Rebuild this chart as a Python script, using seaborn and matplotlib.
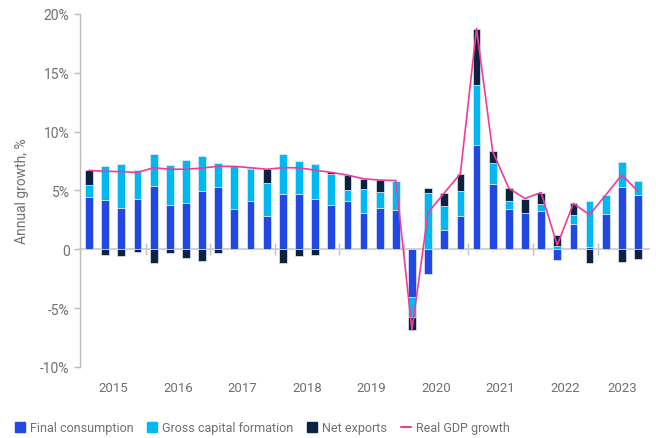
import matplotlib
matplotlib.use("Agg")
import matplotlib.pyplot as plt
import matplotlib.ticker as mticker
from matplotlib.lines import Line2D
from matplotlib.patches import Patch
from matplotlib.transforms import blended_transform_factory
import numpy as np
import seaborn as sns

sns.set_theme(style="white")
plt.rcParams["font.family"] = ["Roboto", "DejaVu Sans"]

# data (quarterly, 2015 Q1 - 2023 Q3)
years = ["2015", "2016", "2017", "2018", "2019", "2020", "2021", "2022", "2023"]
quarters_per_year = [4, 4, 4, 4, 4, 4, 4, 4, 3]
quarters = [f"{y} Q{q + 1}" for y, k in zip(years, quarters_per_year) for q in range(k)]

final_consumption = [4.45, 4.20, 3.49, 4.28, 5.39, 3.77, 3.94, 4.99,
                     5.30, 3.43, 4.11, 2.84, 4.71, 4.71, 4.23, 3.74,
                     4.12, 3.09, 3.49, 3.32, -4.03, -2.10, 1.67, 2.84,
                     8.85, 5.53, 3.40, 3.04, 3.23, -0.91, 2.16, 0.17,
                     3.00, 5.30, 4.62]
gross_capital = [1.05, 2.90, 3.74, 2.42, 2.67, 3.38, 3.61, 2.92,
                 2.05, 3.61, 2.73, 2.78, 3.35, 2.78, 3.00, 2.67,
                 0.90, 2.07, 1.36, 2.47, -1.70, 4.79, 1.99, 2.07,
                 5.08, 1.82, 0.74, 0.08, 0.63, 0.30, 0.79, 3.94,
                 1.57, 2.10, 1.14]
net_exports = [1.20, -0.48, -0.60, -0.20, -1.13, -0.34, -0.74, -1.02,
               -0.28, 0.00, 0.08, 1.16, -1.13, -0.57, -0.51, 0.14,
               1.25, 0.83, 1.02, 0.05, -1.16, 0.43, 1.11, 1.50,
               4.82, 0.96, 1.05, 1.19, 0.96, 0.95, 0.94, -1.19,
               0.03, -1.08, -0.85]
real_gdp = [6.70, 6.62, 6.60, 6.52, 6.93, 6.80, 6.80, 6.90,
            7.05, 7.04, 6.93, 6.80, 6.93, 6.92, 6.72, 6.53,
            6.30, 5.99, 5.88, 5.84, -6.85, 3.12, 4.78, 6.42,
            18.75, 8.31, 5.19, 4.31, 4.82, 0.35, 3.89, 2.93,
            4.60, 6.32, 4.93]

c_fc, c_gcf, c_nx, c_gdp = "#2148e3", "#00b9f2", "#0b2340", "#ee3d96"
grey_txt = "#707070"

fig = plt.figure(figsize=(6.56, 4.39), dpi=100)
ax = fig.add_axes([0.122, 0.162, 0.867, 0.804])

n = len(quarters)
pos_base = np.zeros(n)
neg_base = np.zeros(n)
for vals, color in [(final_consumption, c_fc), (gross_capital, c_gcf), (net_exports, c_nx)]:
    v = np.array(vals)
    bottom = np.where(v >= 0, pos_base, neg_base)
    sns.barplot(x=quarters, y=v, bottom=bottom, color=color, saturation=1,
                width=0.48, errorbar=None, edgecolor="#e3ebf3", linewidth=0.5,
                zorder=2, ax=ax)
    pos_base += np.clip(v, 0, None)
    neg_base += np.clip(v, None, 0)

sns.lineplot(x=np.arange(n), y=real_gdp, color=c_gdp, linewidth=1.2, zorder=3, ax=ax)

ax.set_xlim(-0.56, n - 1 + 0.67)
ax.set_ylim(-10, 20)
ax.yaxis.set_major_locator(mticker.MultipleLocator(5))
ax.yaxis.set_major_formatter(mticker.FuncFormatter(lambda v, p: "0" if v == 0 else f"{v:.0f}%"))
ax.set_ylabel("Annual growth, %", color=grey_txt, fontsize=10, labelpad=8)
ax.tick_params(axis="y", colors="#bbbbbb", labelcolor=grey_txt, labelsize=10,
               length=4, width=1, left=True)

# x axis sits on zero, with small ticks between the years
ax.spines["bottom"].set_position(("data", 0))
ax.spines["bottom"].set_color("#cccccc")
ax.spines["bottom"].set_linewidth(1.3)
ax.spines["bottom"].set_zorder(1)
ax.spines["left"].set_color("#bbbbbb")
ax.spines["left"].set_linewidth(1)
for s in ["top", "right"]:
    ax.spines[s].set_visible(False)

idx = np.arange(n)
bounds = np.cumsum(quarters_per_year)[:-1] - 0.5
ax.set_xticks(bounds)
ax.set_xticklabels([])
ax.tick_params(axis="x", direction="inout", length=8, width=1, colors="#c0c0c0", bottom=True)
ax.set_xlabel("")

trans = blended_transform_factory(ax.transData, ax.transAxes)
start = 0
for y, k in zip(years, quarters_per_year):
    ax.text(idx[start:start + k].mean(), -0.04, y, transform=trans, ha="center", va="top",
            color=grey_txt, fontsize=9.5)
    start += k

handles = [Patch(color=c_fc, label="Final consumption"),
           Patch(color=c_gcf, label="Gross capital formation"),
           Patch(color=c_nx, label="Net exports"),
           Line2D([], [], color=c_gdp, lw=1.5, label="Real GDP growth")]
fig.legend(handles=handles, loc="center left", bbox_to_anchor=(0.005, 0.023), ncol=4,
           frameon=False, fontsize=9, labelcolor=grey_txt, handlelength=0.8,
           handleheight=0.8, handletextpad=0.4, columnspacing=1.1)

fig.savefig("out.png", dpi=100)
